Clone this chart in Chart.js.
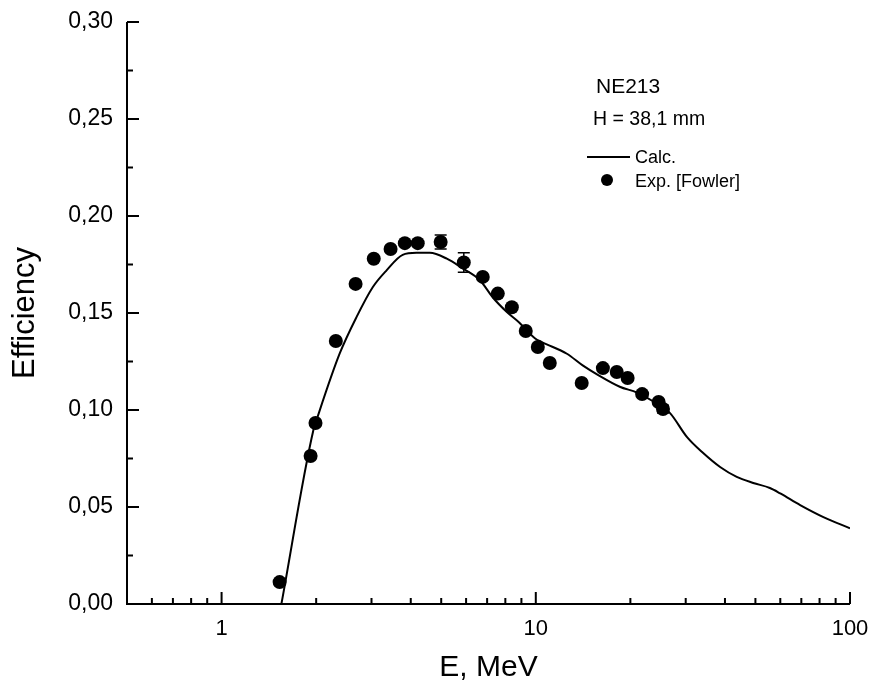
<!DOCTYPE html>
<html>
<head>
<meta charset="utf-8">
<script src="https://cdn.jsdelivr.net/npm/chart.js@4/dist/chart.umd.min.js"></script>
<style>
  html, body { margin: 0; padding: 0; background: #fff; }
  #wrap { width: 874px; height: 686px; position: relative; }
</style>
</head>
<body>
<div id="wrap"><canvas id="c" width="874" height="686"></canvas></div>
<script>
// ---- data ----
const calcE   = [1.55, 1.96, 2.02, 2.375, 2.69, 3.03, 3.35, 3.77, 4.17, 4.60, 5.21, 5.85, 6.63, 7.3, 8.09, 8.87, 9.93, 10.45, 12.56, 14.1, 15.8, 18.5, 21.0, 23.6, 26.7, 30.3, 34.1, 38.6, 43.6, 49.2, 55.6, 60, 69.4, 82.3, 100];
const calcEff = [0.0, 0.0897, 0.0964, 0.129, 0.148, 0.1634, 0.172, 0.180, 0.181, 0.181, 0.178, 0.173, 0.167, 0.158, 0.1505, 0.145, 0.137, 0.135, 0.129, 0.123, 0.118, 0.112, 0.109, 0.1045, 0.0985, 0.086, 0.0778, 0.0706, 0.0655, 0.0624, 0.0598, 0.057, 0.051, 0.0448, 0.039];

const expE   = [1.53, 1.92, 1.99, 2.31, 2.67, 3.05, 3.45, 3.83, 4.21, 4.98, 5.90, 6.78, 7.57, 8.39, 9.29, 10.15, 11.08, 14.0, 16.35, 18.1, 19.6, 21.8, 24.6, 25.4];
const expEff = [0.0113, 0.0763, 0.0933, 0.1356, 0.165, 0.178, 0.183, 0.186, 0.186, 0.1866, 0.176, 0.1686, 0.160, 0.153, 0.1407, 0.1325, 0.1242, 0.1139, 0.1216, 0.1196, 0.1165, 0.1082, 0.1041, 0.1005];
const expErr = [0, 0, 0, 0, 0, 0, 0, 0, 0, 0.0036, 0.005, 0, 0, 0, 0, 0, 0, 0, 0, 0, 0, 0, 0, 0.002];

const xMajorTicks = [1, 10, 100];
const xMinorTicks = [0.6, 0.7, 0.8, 0.9, 2, 3, 4, 5, 6, 7, 8, 9, 20, 30, 40, 50, 60, 70, 80, 90];
const yMajorTicks = [0.00, 0.05, 0.10, 0.15, 0.20, 0.25, 0.30];
const yMinorTicks = [0.025, 0.075, 0.125, 0.175, 0.225, 0.275];

const labelCalc = 'Calc.';
const labelExp = 'Exp. [Fowler]';
const noteTitle = 'NE213';
const noteSub = 'H = 38,1 mm';

const FONT = "'Liberation Sans', Arial, sans-serif";

// ---- plugins ----
const framePlugin = {
  id: 'frame',
  afterDatasetsDraw(chart) {
    const { ctx, chartArea: { left, right, top, bottom }, scales: { x, y } } = chart;
    ctx.save();
    ctx.strokeStyle = '#000';
    // error bars
    expErr.forEach((e, i) => {
      if (!e) return;
      const px = x.getPixelForValue(expE[i]);
      const y1 = y.getPixelForValue(expEff[i] + e);
      const y2 = y.getPixelForValue(expEff[i] - e);
      ctx.lineWidth = 1.5;
      ctx.beginPath();
      ctx.moveTo(px, y1); ctx.lineTo(px, y2);
      ctx.moveTo(px - 6, y1); ctx.lineTo(px + 6, y1);
      ctx.moveTo(px - 6, y2); ctx.lineTo(px + 6, y2);
      ctx.stroke();
    });
    ctx.lineWidth = 2;
    // axes lines
    ctx.beginPath();
    ctx.moveTo(left, top);
    ctx.lineTo(left, bottom);
    ctx.lineTo(right, bottom);
    ctx.stroke();
    // ticks (inward)
    ctx.beginPath();
    xMajorTicks.forEach(v => { const p = x.getPixelForValue(v); ctx.moveTo(p, bottom); ctx.lineTo(p, bottom - 12); });
    xMinorTicks.forEach(v => { const p = x.getPixelForValue(v); ctx.moveTo(p, bottom); ctx.lineTo(p, bottom - 6); });
    yMajorTicks.forEach(v => { const p = y.getPixelForValue(v); ctx.moveTo(left, p); ctx.lineTo(left + 12, p); });
    yMinorTicks.forEach(v => { const p = y.getPixelForValue(v); ctx.moveTo(left, p); ctx.lineTo(left + 6, p); });
    ctx.stroke();

    // annotation + legend
    ctx.fillStyle = '#000';
    ctx.textBaseline = 'alphabetic';
    ctx.textAlign = 'left';
    ctx.font = '21px ' + FONT;
    ctx.fillText(noteTitle, 596, 93);
    ctx.font = '19.5px ' + FONT;
    ctx.fillText(noteSub, 593, 125);
    ctx.font = '18px ' + FONT;
    ctx.lineWidth = 2;
    ctx.beginPath(); ctx.moveTo(587, 157); ctx.lineTo(630, 157); ctx.stroke();
    ctx.fillText(labelCalc, 635, 163);
    ctx.beginPath(); ctx.arc(607, 180, 6, 0, Math.PI * 2); ctx.fill();
    ctx.fillText(labelExp, 635, 187);
    ctx.restore();
  }
};

const ctx = document.getElementById('c').getContext('2d');
new Chart(ctx, {
  type: 'scatter',
  data: {
    datasets: [
      {
        label: labelCalc,
        type: 'line',
        data: calcE.map((v, i) => ({ x: v, y: calcEff[i] })),
        borderColor: '#000',
        borderWidth: 2,
        pointRadius: 0,
        fill: false,
        cubicInterpolationMode: 'monotone',
        order: 2
      },
      {
        label: labelExp,
        data: expE.map((v, i) => ({ x: v, y: expEff[i] })),
        backgroundColor: '#000',
        borderColor: '#000',
        borderWidth: 0,
        pointRadius: 7,
        showLine: false,
        order: 1
      }
    ]
  },
  options: {
    responsive: false,
    animation: false,
    events: [],
    layout: { padding: { top: 22, right: 24, left: 0, bottom: 0 } },
    plugins: { legend: { display: false }, tooltip: { enabled: false } },
    scales: {
      x: {
        type: 'logarithmic',
        position: 'bottom',
        min: 0.5,
        max: 100,
        grid: { display: false, drawTicks: false },
        border: { display: false },
        afterBuildTicks: s => { s.ticks = xMajorTicks.map(v => ({ value: v })); },
        afterFit: s => { s.height = 82; s.paddingLeft = 0; s.paddingRight = 0; },
        ticks: {
          autoSkip: false,
          maxRotation: 0,
          padding: 12,
          color: '#000',
          font: { family: FONT, size: 22 },
          callback: v => String(v)
        },
        title: {
          display: true,
          text: 'E, MeV',
          color: '#000',
          font: { family: FONT, size: 30 },
          padding: { top: 4, bottom: 0 }
        }
      },
      y: {
        type: 'linear',
        position: 'left',
        min: 0,
        max: 0.30,
        grid: { display: false, drawTicks: false },
        border: { display: false },
        afterBuildTicks: s => { s.ticks = yMajorTicks.map(v => ({ value: v })); },
        afterFit: s => { s.width = 127; s.paddingTop = 0; s.paddingBottom = 0; },
        ticks: {
          padding: 14,
          color: '#000',
          font: { family: FONT, size: 23 },
          callback: v => Number(v).toFixed(2).replace('.', ',')
        },
        title: {
          display: true,
          text: 'Efficiency',
          color: '#000',
          font: { family: FONT, size: 31 },
          padding: { top: 7, bottom: 0 }
        }
      }
    }
  },
  plugins: [framePlugin]
});
</script>
</body>
</html>
